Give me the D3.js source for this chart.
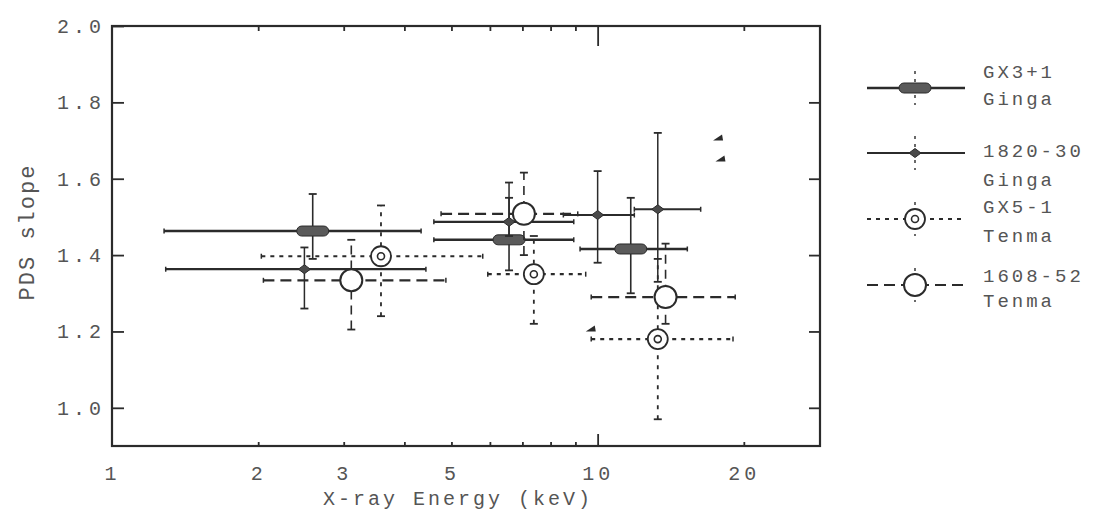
<!DOCTYPE html>
<html>
<head>
<meta charset="utf-8">
<script src="https://cdn.jsdelivr.net/npm/d3@7"></script>
<style>
  html, body { margin: 0; padding: 0; background: #fff; }
  svg text { font-family: "Liberation Mono", "DejaVu Sans Mono", monospace; fill: #555; }
</style>
</head>
<body>
<svg id="chart" width="1100" height="522"></svg>
<script>
// ---------------- DATA ----------------
const xTickLabels = [1, 2, 3, 5, 10, 20];
const xMinorTicks = [2, 3, 4, 5, 6, 7, 8, 9, 20];
const xMajorTicks = [10];
const yTickLabels = [1.0, 1.2, 1.4, 1.6, 1.8, 2.0];

const seriesNames = ["GX3+1", "1820-30", "GX5-1", "1608-52"];
const seriesSatellites = ["Ginga", "Ginga", "Tenma", "Tenma"];

// GX3+1 (Ginga)
const gx3Energy = [2.59, 6.57, 11.7];
const gx3ELow   = [1.28, 4.60, 9.2];
const gx3EHigh  = [4.33, 8.93, 15.3];
const gx3Slope  = [1.463, 1.44, 1.416];
const gx3SLow   = [1.39, 1.36, 1.30];
const gx3SHigh  = [1.56, 1.55, 1.55];

// 1820-30 (Ginga)
const s1820Energy = [2.49, 6.57, 10.0, 13.3];
const s1820ELow   = [1.29, 4.60, 8.5, 11.9];
const s1820EHigh  = [4.43, 8.93, 11.9, 16.3];
const s1820Slope  = [1.363, 1.487, 1.505, 1.52];
const s1820SLow   = [1.26, 1.45, 1.38, 1.33];
const s1820SHigh  = [1.42, 1.59, 1.62, 1.72];

// GX5-1 (Tenma)
const gx5Energy = [3.58, 7.39, 13.3];
const gx5ELow   = [2.03, 5.94, 9.7];
const gx5EHigh  = [5.8, 9.45, 19.0];
const gx5Slope  = [1.397, 1.35, 1.18];
const gx5SLow   = [1.24, 1.22, 0.97];
const gx5SHigh  = [1.53, 1.45, 1.39];

// 1608-52 (Tenma)
const s1608Energy = [3.11, 7.05, 13.8];
const s1608ELow   = [2.05, 4.76, 9.7];
const s1608EHigh  = [4.87, 9.1, 19.2];
const s1608Slope  = [1.334, 1.508, 1.29];
const s1608SLow   = [1.205, 1.40, 1.22];
const s1608SHigh  = [1.44, 1.616, 1.43];

// stray arrow-head marks in the figure
const extraEnergy = [17.7, 17.9, 9.68];
const extraSlope  = [1.708, 1.653, 1.208];

// ---------------- LAYOUT ----------------
const plot = { left: 112, right: 820, top: 26, bottom: 446 };
const ink = "#2b2b2b";

const svg = d3.select("#chart");
const x = d3.scaleLog().domain([1, 28.7]).range([plot.left, plot.right]);
const y = d3.scaleLinear().domain([0.9, 2.0]).range([plot.bottom, plot.top]);

function build(energy, eLo, eHi, slope, sLo, sHi) {
  return energy.map((e, i) => ({ e, eLo: eLo[i], eHi: eHi[i], s: slope[i], sLo: sLo[i], sHi: sHi[i] }));
}

const series = [
  { name: seriesNames[0], sat: seriesSatellites[0], data: build(gx3Energy, gx3ELow, gx3EHigh, gx3Slope, gx3SLow, gx3SHigh),
    dash: null, hw: 2.6, vw: 1.6, vdash: null, marker: "capsule",
    leg: { y: 88, t1: 73, t2: 100 } },
  { name: seriesNames[1], sat: seriesSatellites[1], data: build(s1820Energy, s1820ELow, s1820EHigh, s1820Slope, s1820SLow, s1820SHigh),
    dash: null, hw: 2.2, vw: 1.5, vdash: null, marker: "diamond",
    leg: { y: 153, t1: 152, t2: 181 } },
  { name: seriesNames[2], sat: seriesSatellites[2], data: build(gx5Energy, gx5ELow, gx5EHigh, gx5Slope, gx5SLow, gx5SHigh),
    dash: "4,5", hw: 2.2, vw: 1.8, vdash: "4,6", marker: "circledot",
    leg: { y: 219, t1: 208, t2: 237 } },
  { name: seriesNames[3], sat: seriesSatellites[3], data: build(s1608Energy, s1608ELow, s1608EHigh, s1608Slope, s1608SLow, s1608SHigh),
    dash: "11,6", hw: 2.2, vw: 1.6, vdash: "9,6", marker: "circle",
    leg: { y: 285, t1: 277, t2: 302 } }
];

function drawMarker(g, type, cx, cy) {
  if (type === "capsule") {
    g.append("rect").attr("x", cx - 16).attr("y", cy - 5).attr("width", 32).attr("height", 10)
      .attr("rx", 5).attr("fill", "#5a5a5a").attr("stroke", ink).attr("stroke-width", 1);
  } else if (type === "diamond") {
    g.append("path").attr("d", `M${cx - 6},${cy} L${cx},${cy - 4.5} L${cx + 6},${cy} L${cx},${cy + 4.5} Z`)
      .attr("fill", "#4a4a4a").attr("stroke", ink).attr("stroke-width", 1);
  } else if (type === "circledot") {
    g.append("circle").attr("cx", cx).attr("cy", cy).attr("r", 10)
      .attr("fill", "#fff").attr("stroke", ink).attr("stroke-width", 1.8);
    g.append("circle").attr("cx", cx).attr("cy", cy).attr("r", 3.5)
      .attr("fill", "#fff").attr("stroke", ink).attr("stroke-width", 1.6);
  } else if (type === "circle") {
    g.append("circle").attr("cx", cx).attr("cy", cy).attr("r", 11)
      .attr("fill", "#fff").attr("stroke", ink).attr("stroke-width", 2);
  }
}

// ---------------- AXES ----------------
const axes = svg.append("g");

axes.append("g").attr("transform", `translate(${plot.left},0)`)
  .call(d3.axisLeft(y).tickValues(yTickLabels).tickSize(-12).tickPadding(7).tickFormat(d3.format(".1f")));
axes.append("g").attr("transform", `translate(${plot.right},0)`)
  .call(d3.axisRight(y).tickValues(yTickLabels.filter(v => v < 2)).tickSize(-11).tickFormat(""));
axes.append("g").attr("transform", `translate(0,${plot.bottom})`)
  .call(d3.axisBottom(x).tickValues(xTickLabels).tickSize(0).tickPadding(20).tickFormat(d3.format("d")));
axes.append("g").attr("transform", `translate(0,${plot.bottom})`)
  .call(d3.axisBottom(x).tickValues(xMinorTicks).tickSize(-4).tickFormat(""));
axes.append("g").attr("transform", `translate(0,${plot.bottom})`)
  .call(d3.axisBottom(x).tickValues(xMajorTicks).tickSize(-12).tickFormat(""));
axes.append("g").attr("transform", `translate(0,${plot.top})`)
  .call(d3.axisTop(x).tickValues(xMinorTicks).tickSize(-5).tickFormat(""));
axes.append("g").attr("transform", `translate(0,${plot.top})`)
  .call(d3.axisTop(x).tickValues(xMajorTicks).tickSize(-20).tickFormat(""));

axes.selectAll(".domain").remove();
axes.selectAll(".tick line").attr("stroke", ink).attr("stroke-width", 1.8);
axes.selectAll(".tick text")
  .attr("fill", "#555").style("font-size", "20px").style("letter-spacing", "4px")
  .style("font-family", "'Liberation Mono', 'DejaVu Sans Mono', monospace");

// frame
svg.append("rect")
  .attr("x", plot.left).attr("y", plot.top)
  .attr("width", plot.right - plot.left).attr("height", plot.bottom - plot.top)
  .attr("fill", "none").attr("stroke", ink).attr("stroke-width", 2.2);

// axis titles
svg.append("text")
  .attr("transform", `translate(28,232) rotate(-90)`)
  .attr("text-anchor", "middle").attr("dominant-baseline", "middle")
  .style("font-size", "22px").style("letter-spacing", "2px")
  .text("PDS slope");
svg.append("text")
  .attr("x", 458).attr("y", 500)
  .attr("text-anchor", "middle").attr("dominant-baseline", "middle")
  .style("font-size", "20px").style("letter-spacing", "3px")
  .text("X-ray Energy (keV)");

// ---------------- DATA MARKS ----------------
const marks = svg.append("g");
series.forEach(sr => {
  const g = marks.append("g");
  sr.data.forEach(d => {
    g.append("line")
      .attr("x1", x(d.eLo)).attr("x2", x(d.eHi)).attr("y1", y(d.s)).attr("y2", y(d.s))
      .attr("stroke", ink).attr("stroke-width", sr.hw)
      .attr("stroke-dasharray", sr.dash);
    [d.eLo, d.eHi].forEach(ev => {
      g.append("line").attr("x1", x(ev)).attr("x2", x(ev))
        .attr("y1", y(d.s) - 2.5).attr("y2", y(d.s) + 2.5)
        .attr("stroke", ink).attr("stroke-width", 1.5);
    });
    g.append("line")
      .attr("x1", x(d.e)).attr("x2", x(d.e)).attr("y1", y(d.sLo)).attr("y2", y(d.sHi))
      .attr("stroke", ink).attr("stroke-width", sr.vw)
      .attr("stroke-dasharray", sr.vdash);
    [d.sLo, d.sHi].forEach(sv => {
      g.append("line").attr("x1", x(d.e) - 4).attr("x2", x(d.e) + 4)
        .attr("y1", y(sv)).attr("y2", y(sv))
        .attr("stroke", ink).attr("stroke-width", 1.8);
    });
    drawMarker(g, sr.marker, x(d.e), y(d.s));
  });
});

marks.selectAll("path.extra")
  .data(extraEnergy.map((e, i) => ({ e, s: extraSlope[i] })))
  .join("path").attr("class", "extra")
  .attr("d", d => { const cx = x(d.e), cy = y(d.s); return `M${cx - 5},${cy + 3} L${cx + 4},${cy - 3} L${cx + 5},${cy + 3} Z`; })
  .attr("fill", ink);

// ---------------- LEGEND ----------------
const legend = svg.append("g");
const legX1 = 867, legX2 = 965, legMid = 915, legText = 983;
series.forEach(sr => {
  const g = legend.append("g");
  const ly = sr.leg.y;
  g.append("line").attr("x1", legX1).attr("x2", legX2).attr("y1", ly).attr("y2", ly)
    .attr("stroke", ink).attr("stroke-width", sr.hw).attr("stroke-dasharray", sr.dash);
  g.append("line").attr("x1", legMid).attr("x2", legMid).attr("y1", ly - 17).attr("y2", ly + 17)
    .attr("stroke", ink).attr("stroke-width", 1.4).attr("stroke-dasharray", "3,5");
  drawMarker(g, sr.marker, legMid, ly);
  g.append("text").attr("x", legText).attr("y", sr.leg.t1).attr("dominant-baseline", "middle")
    .style("font-size", "19px").style("letter-spacing", "3px").text(sr.name);
  g.append("text").attr("x", legText).attr("y", sr.leg.t2).attr("dominant-baseline", "middle")
    .style("font-size", "19px").style("letter-spacing", "3px").text(sr.sat);
});
</script>
</body>
</html>
